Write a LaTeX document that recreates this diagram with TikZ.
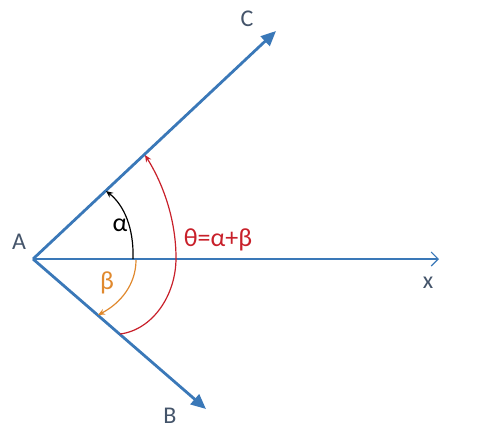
\documentclass[tikz,border=0pt]{standalone}
\usepackage{fontspec}
\setmainfont{Carlito}
\usetikzlibrary{arrows.meta}
\definecolor{lineblue}{HTML}{3A78B8}
\definecolor{labelgray}{HTML}{44546A}
\definecolor{thetared}{HTML}{C8202A}
\definecolor{betaorange}{HTML}{E0892E}
\tikzset{
  ray/.style={draw=lineblue, line width=2.8pt, -{Triangle[length=15pt,width=13pt]}},
  axisline/.style={draw=lineblue, line width=1.1pt, -{Straight Barb[length=7pt,width=14pt,line width=1.1pt]}},
  anglearc/.style={line width=1.2pt, -{Stealth[length=7pt,width=6pt]}},
  lbl/.style={text=labelgray, font=\fontsize{24}{28}\selectfont, inner sep=0pt},
  glbl/.style={font=\fontsize{26}{30}\selectfont, inner sep=0pt}
}
\begin{document}
\begin{tikzpicture}[x=1pt,y=-1pt]
\useasboundingbox (0,0) rectangle (484,429);
\coordinate (A) at (33,259);
\coordinate (C) at (276,31);
\coordinate (B) at (206,409);
\coordinate (X) at (439,259);
\coordinate (a0) at (133,259);
\coordinate (a1) at (106,191);
\coordinate (b0) at (136,260);
\coordinate (b1) at (98,315);
\coordinate (t0) at (120,334);
\coordinate (tm) at (176,258);
\coordinate (t1) at (145,155);
\draw[axisline] (A) -- (X);
\draw[ray] (A) -- (C);
\draw[ray] (A) -- (B);
\draw[anglearc, black] (a0) .. controls (134,228) and (124,205) .. (a1);
\draw[anglearc, betaorange] (b0) .. controls (136,284) and (121,303) .. (b1);
\draw[anglearc, thetared] (t0) .. controls (152,330) and (176,296) .. (tm)
   .. controls (176,218) and (162,182) .. (t1);
\node[lbl] (lA) at (19,242) {A};
\node[lbl] (lC) at (247,19) {C};
\node[lbl] (lB) at (170,416) {B};
\node[lbl] (lx) at (428,283) {x};
\node[glbl, text=black] (lalpha) at (120,225) {α};
\node[glbl, text=betaorange] (lbeta) at (107,283) {β};
\node[glbl, text=thetared] (ltheta) at (218,240) {θ=α+β};
\end{tikzpicture}
\end{document}
